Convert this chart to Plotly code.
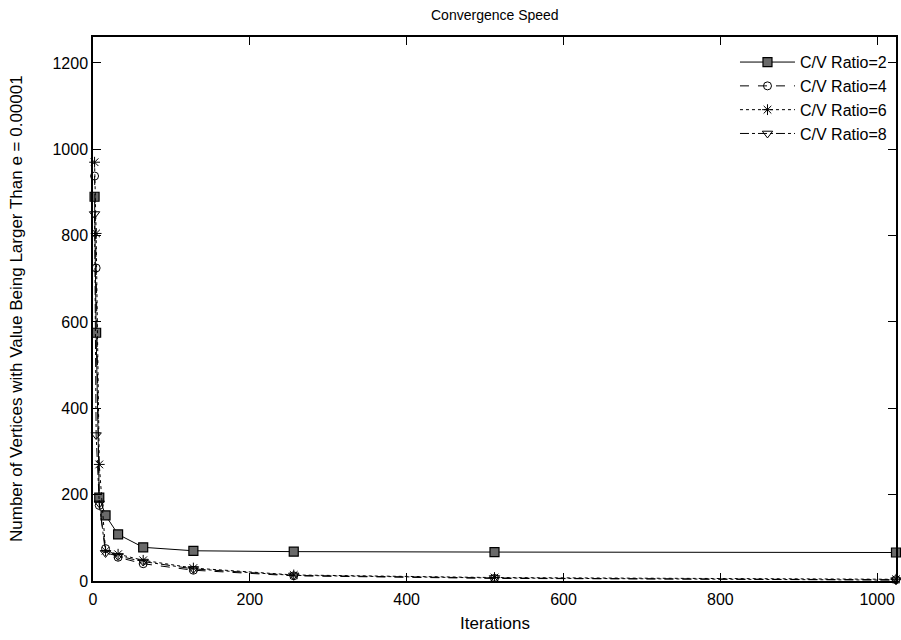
import plotly.graph_objects as go

iterations = [2, 4, 8, 16, 32, 64, 128, 256, 512, 1024]
ratio2 = [890, 575, 193, 152, 108, 78, 70, 68, 67, 66]
ratio4 = [938, 725, 175, 75, 55, 40, 25, 12, 6, 3]
ratio6 = [970, 805, 270, 70, 62, 48, 30, 14, 8, 4]
ratio8 = [850, 338, 180, 65, 58, 45, 28, 13, 7, 2]
series_names = ["C/V Ratio=2", "C/V Ratio=4", "C/V Ratio=6", "C/V Ratio=8"]

FONT = "Liberation Sans, Arial, sans-serif"

styles = [
    dict(line=dict(color="black", width=1, dash="solid"),
         marker=dict(symbol="square", size=9, color="#6a6a6a",
                     line=dict(color="black", width=1.2))),
    dict(line=dict(color="black", width=1, dash="dash"),
         marker=dict(symbol="circle-open", size=8, color="black",
                     line=dict(width=1))),
    dict(line=dict(color="black", width=1, dash="dot"),
         marker=dict(symbol="asterisk-open", size=9, color="black",
                     line=dict(width=1))),
    dict(line=dict(color="black", width=1, dash="dashdot"),
         marker=dict(symbol="triangle-down-open", size=9, color="black",
                     line=dict(width=1))),
]

fig = go.Figure()
for name, vals, st in zip(series_names, [ratio2, ratio4, ratio6, ratio8], styles):
    fig.add_trace(go.Scatter(x=iterations, y=vals, mode="lines+markers",
                             name=name, line=st["line"], marker=st["marker"],
                             cliponaxis=False))

axis_common = dict(showline=True, linecolor="black", linewidth=1.5,
                   mirror="allticks", ticks="inside", ticklen=8,
                   tickcolor="black", tickwidth=1, showgrid=False,
                   zeroline=False, tickfont=dict(family=FONT, size=16, color="black"))

fig.update_layout(
    width=901, height=640,
    margin=dict(l=93, r=3, t=37, b=59),
    paper_bgcolor="white", plot_bgcolor="white",
    font=dict(family=FONT, size=16, color="black"),
    showlegend=True,
    legend=dict(x=0.995, y=0.985, xanchor="right", yanchor="top",
                bgcolor="rgba(0,0,0,0)", borderwidth=0,
                font=dict(family=FONT, size=16, color="black"),
                tracegroupgap=0, itemwidth=55),
    xaxis=dict(range=[0, 1024], dtick=200, tick0=0, ticklabelstandoff=3,
               **axis_common),
    yaxis=dict(range=[0, 1260], dtick=200, tick0=0, **axis_common),
    annotations=[
        dict(text="Convergence Speed", xref="paper", yref="paper",
             x=0.5, y=1, yshift=22, showarrow=False, yanchor="middle",
             font=dict(family=FONT, size=14, color="black")),
        dict(text="Iterations", xref="paper", yref="paper",
             x=0.5, y=0, yshift=-42, showarrow=False, yanchor="middle",
             font=dict(family=FONT, size=17, color="black")),
        dict(text="Number of Vertices with Value Being Larger Than e = 0.00001",
             xref="paper", yref="paper", x=0, xshift=-77, y=0.5,
             textangle=-90, showarrow=False, xanchor="center",
             font=dict(family=FONT, size=17, color="black")),
    ],
)

fig.write_html("out.html")
